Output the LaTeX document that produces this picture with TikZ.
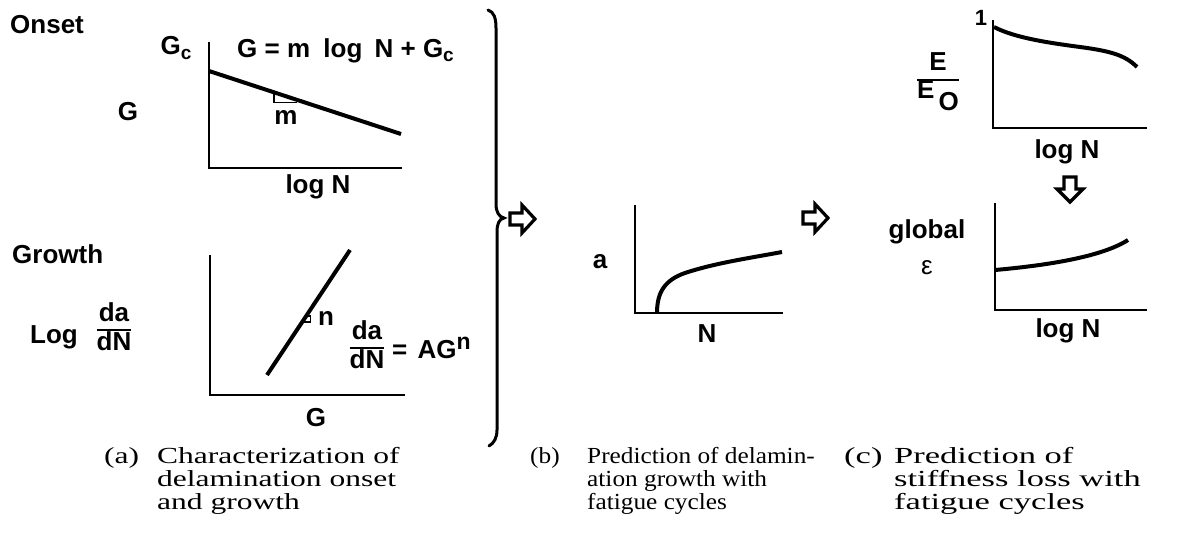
\documentclass[tikz,border=0pt]{standalone}
\usepackage{fontspec}
\setmainfont{Liberation Serif}
\newfontfamily\capfonta[FakeStretch=1.37]{Liberation Serif}
\newfontfamily\capfontb[FakeStretch=1.1]{Liberation Serif}
\newfontfamily\capfontc[FakeStretch=1.5]{Liberation Serif}
\newfontfamily\hv{Liberation Sans}
\newcommand\lowc[1]{\raisebox{-0.35ex}{\fontsize{19}{20}\selectfont #1}}
\newcommand\barfrac[2]{{\setlength\arrayrulewidth{2.4pt}\renewcommand\arraystretch{0.85}\begin{tabular}{@{}c@{}}#1\\\hline #2\end{tabular}}}
\begin{document}
\begin{tikzpicture}[x=1pt,y=-1pt,
  lab/.style={font=\hv\bfseries\fontsize{26}{30}\selectfont, inner sep=0pt},
  capa/.style={font=\capfonta\fontsize{23}{24}\selectfont, inner sep=0pt, anchor=base west},
  capb/.style={font=\capfontb\fontsize{23}{24}\selectfont, inner sep=0pt, anchor=base west},
  capc/.style={font=\capfontc\fontsize{23}{24}\selectfont, inner sep=0pt, anchor=base west},
  axisline/.style={line width=2.5pt, line join=miter},
  dataline/.style={line width=4pt},
  thinline/.style={line width=1.3pt},
  blockarrow/.style={line width=3.2pt, line join=miter}]
\useasboundingbox (0,0) rectangle (1203,546);

% ---------- (a) onset ----------
\node[lab, anchor=base west] (onset) at (10,34) {Onset};
\node[lab] (gc) at (176,48) {G\lowc{c}};
\node[lab, anchor=base west] (eqa) at (237,57) {G = m\hspace{6pt} log\hspace{5pt} N + G\lowc{c}};
\node[lab] (gy) at (128,112) {G};
\coordinate (a1top) at (209,42);
\coordinate (a1o) at (209,168);
\coordinate (a1r) at (402,168);
\draw[axisline] (a1top) -- (a1o) -- (a1r);
\coordinate (l1s) at (209,71);
\coordinate (l1e) at (401,134);
\draw[dataline] (l1s) -- (l1e);
\coordinate (t1) at (274,94);
\coordinate (t2) at (274,102.5);
\coordinate (t3) at (297,102.5);
\draw[thinline] (t1) -- (t2) -- (t3);
\node[lab] (m) at (286,117) {m};
\node[lab] (logn1) at (318,187) {log N};

% ---------- (a) growth ----------
\node[lab, anchor=base west] (growth) at (12,263) {Growth};
\node[lab, anchor=base west] (logt) at (30,343) {Log};
\node[lab] (fr1) at (114,330) {\barfrac{da}{dN}};
\coordinate (a2top) at (210,255);
\coordinate (a2o) at (210,395);
\coordinate (a2r) at (405,395);
\draw[axisline] (a2top) -- (a2o) -- (a2r);
\coordinate (l2s) at (267,375);
\coordinate (l2e) at (350,250);
\draw[dataline] (l2s) -- (l2e);
\coordinate (s1) at (305.5,316);
\coordinate (s2) at (310.5,316);
\coordinate (s3) at (310.5,322);
\coordinate (s4) at (302,322);
\draw[thinline] (s1) -- (s2) -- (s3) -- (s4);
\node[lab] (n) at (326,318) {n};
\node[lab] (fr2) at (367,348) {\barfrac{da}{dN}};
\node[lab, anchor=base west] (eq2) at (392,358) {=\hspace{3pt} AG\raisebox{0.6ex}{\fontsize{23}{23}\selectfont n}};
\node[lab] (gx) at (316,418) {G};

% ---------- brace ----------
\draw[line width=3pt, line cap=round]
  (488,10) .. controls (494,12) and (496,18) .. (496,28)
  -- (496,204) .. controls (496,212) and (499,217) .. (504,218)
  .. controls (499,219) and (497,224) .. (497,232)
  -- (497,430) .. controls (497,438) and (494,443) .. (489,446);

% ---------- arrow 1 ----------
\coordinate (r1) at (510,219);
\draw[blockarrow] (r1) ++(0,-6) -- ++(12,0) -- ++(0,-8) -- ++(13,14) -- ++(-13,14) -- ++(0,-8) -- ++(-12,0) -- cycle;

% ---------- (b) ----------
\node[lab] (ab) at (600,262) {a};
\coordinate (btop) at (635,205);
\coordinate (bo) at (635,313);
\coordinate (br) at (783,313);
\draw[axisline] (btop) -- (bo) -- (br);
\coordinate (bc0) at (657,313);
\coordinate (bc1) at (685,273);
\coordinate (bc2) at (782,252);
\draw[dataline] (bc0) .. controls (657,292) and (665,280) .. (bc1) .. controls (715,263) and (750,258) .. (bc2);
\node[lab] (nb) at (707,334) {N};

% ---------- arrow 2 ----------
\coordinate (r2) at (803,218);
\draw[blockarrow] (r2) ++(0,-6) -- ++(12,0) -- ++(0,-8) -- ++(13,14) -- ++(-13,14) -- ++(0,-8) -- ++(-12,0) -- cycle;

% ---------- (c) top ----------
\node[lab, font=\hv\bfseries\fontsize{22}{24}\selectfont] (one) at (981,18) {1};
\node[lab] (eeo) at (938,82) {\barfrac{E}{E\,\raisebox{-0.45em}{O}}};
\coordinate (ctop) at (993,20);
\coordinate (co) at (993,128);
\coordinate (cr) at (1147,128);
\draw[axisline] (ctop) -- (co) -- (cr);
\coordinate (cc0) at (994,27);
\coordinate (cc1) at (1080,47);
\coordinate (cc2) at (1137,67);
\draw[dataline] (cc0) .. controls (1015,38) and (1050,43) .. (cc1) .. controls (1110,51) and (1125,55) .. (cc2);
\node[lab] (logn2) at (1067,152) {log N};

% ---------- down arrow ----------
\coordinate (d1) at (1070,177);
\draw[blockarrow] (d1) ++(-6,0) -- ++(0,12) -- ++(-7,0) -- ++(13,13) -- ++(13,-13) -- ++(-7,0) -- ++(0,-12) -- cycle;

% ---------- (c) bottom ----------
\node[lab] (glob) at (927,232) {global};
\node[lab, font=\hv\fontsize{26}{30}\selectfont] (eps) at (927,268) {ε};
\coordinate (dtop) at (995,203);
\coordinate (do) at (995,310);
\coordinate (dr) at (1147,310);
\draw[axisline] (dtop) -- (do) -- (dr);
\coordinate (dc0) at (995,270);
\coordinate (dc1) at (1128,240);
\draw[dataline] (dc0) .. controls (1040,266) and (1100,258) .. (dc1);
\node[lab] (logn3) at (1068,331) {log N};

% ---------- captions ----------
\node[capa] (cpa) at (104,463) {(a)};
\node[capa] (cpa1) at (157,463) {Characterization of};
\node[capa] (cpa2) at (157,486) {delamination onset};
\node[capa] (cpa3) at (157,509) {and growth};
\node[capb] (cpb) at (530,463) {(b)};
\node[capb] (cpb1) at (587,463) {Prediction of delamin-};
\node[capb] (cpb2) at (587,486) {ation growth with};
\node[capb] (cpb3) at (587,509) {fatigue cycles};
\node[capc] (cpc) at (844,463) {(c)};
\node[capc] (cpc1) at (894,463) {Prediction of};
\node[capc] (cpc2) at (894,486) {stiffness loss with};
\node[capc] (cpc3) at (894,509) {fatigue cycles};
\end{tikzpicture}
\end{document}
